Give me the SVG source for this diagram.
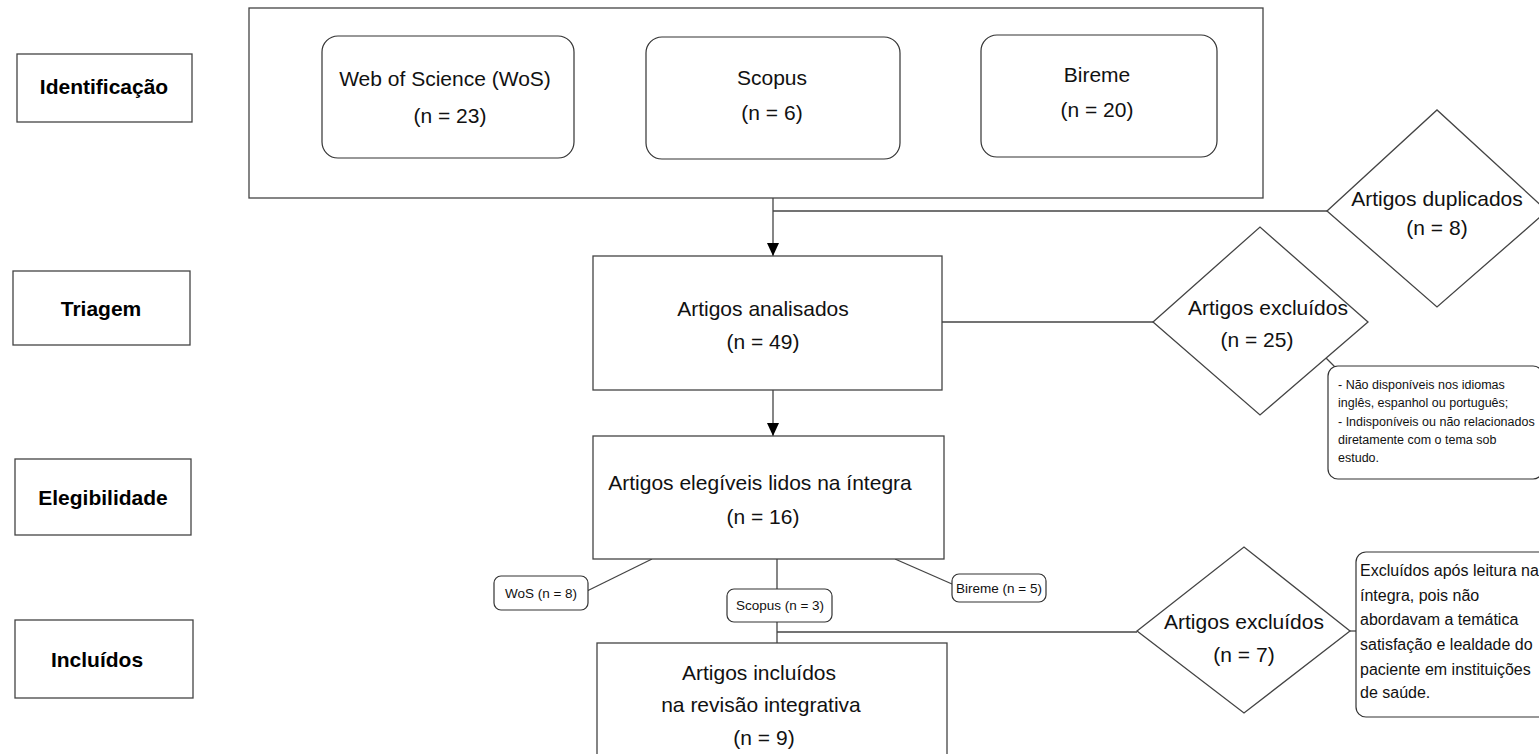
<svg xmlns="http://www.w3.org/2000/svg" width="1539" height="754" viewBox="0 0 1539 754">
<defs>
<style>
.box{fill:#fff;stroke:#444;stroke-width:1.3}
.rbox{fill:#fff;stroke:#333;stroke-width:1.2}
.ln{fill:none;stroke:#444;stroke-width:1.3}
.t{font-family:"Liberation Sans",Arial,sans-serif;font-size:21px;fill:#111;text-anchor:middle}
.lb{font-family:"Liberation Sans",Arial,sans-serif;font-size:21px;font-weight:bold;fill:#000;text-anchor:middle}
.s{font-family:"Liberation Sans",Arial,sans-serif;font-size:13.5px;fill:#111;text-anchor:middle}
.n1{font-family:"Liberation Sans",Arial,sans-serif;font-size:12.5px;fill:#111}
.n2{font-family:"Liberation Sans",Arial,sans-serif;font-size:16px;fill:#111}
</style>
<marker id="ah" viewBox="0 0 13 12" refX="13" refY="6" markerWidth="13" markerHeight="12" markerUnits="userSpaceOnUse" orient="auto">
<path d="M0,0 L13,6 L0,12 Z" fill="#000"/>
</marker>
</defs>
<rect width="1539" height="754" fill="#fff"/>

<g id="stage-identificacao"><rect class="box" x="17" y="54" width="175" height="68"/><text class="lb" x="104" y="94">Identificação</text></g>
<g id="stage-triagem"><rect class="box" x="13" y="271" width="177" height="74"/><text class="lb" x="101" y="316">Triagem</text></g>
<g id="stage-elegibilidade"><rect class="box" x="15" y="459" width="176" height="76"/><text class="lb" x="103" y="505">Elegibilidade</text></g>
<g id="stage-incluidos"><rect class="box" x="15" y="620" width="178" height="78"/><text class="lb" x="97" y="667">Incluídos</text></g>

<g id="connectors">
<line class="ln" x1="773" y1="198" x2="773" y2="256" marker-end="url(#ah)"/>
<line class="ln" x1="773" y1="211" x2="1327" y2="211"/>
<line class="ln" x1="942" y1="322" x2="1153" y2="322"/>
<line class="ln" x1="1326" y1="358" x2="1336" y2="368"/>
<line class="ln" x1="773" y1="390" x2="773" y2="436" marker-end="url(#ah)"/>
<line class="ln" x1="652" y1="559" x2="587" y2="591"/>
<line class="ln" x1="895" y1="559" x2="952" y2="584"/>
<line class="ln" x1="777" y1="559" x2="777" y2="589"/>
<line class="ln" x1="777" y1="622" x2="777" y2="643"/>
<line class="ln" x1="777" y1="632" x2="1137" y2="632"/>
<line class="ln" x1="1350" y1="631" x2="1356" y2="631"/>
</g>

<g id="identificacao-box"><rect class="box" x="249" y="8" width="1014" height="190"/></g>
<g id="wos"><rect class="rbox" x="322" y="36" width="252" height="122" rx="16"/><text class="t" x="445" y="86">Web of Science (WoS)</text><text class="t" x="450" y="123">(n = 23)</text></g>
<g id="scopus"><rect class="rbox" x="646" y="37" width="254" height="122" rx="16"/><text class="t" x="772" y="85">Scopus</text><text class="t" x="772" y="120">(n = 6)</text></g>
<g id="bireme"><rect class="rbox" x="981" y="35" width="236" height="122" rx="16"/><text class="t" x="1097" y="82">Bireme</text><text class="t" x="1097" y="117">(n = 20)</text></g>

<g id="duplicados"><polygon class="box" points="1327,211 1437,110 1547,211 1437,307"/><text class="t" x="1437" y="206">Artigos duplicados</text><text class="t" x="1437" y="235">(n = 8)</text></g>

<g id="analisados"><rect class="box" x="593" y="256" width="349" height="134"/><text class="t" x="763" y="316">Artigos analisados</text><text class="t" x="763" y="349">(n = 49)</text></g>

<g id="excluidos-25"><polygon class="box" points="1153,322 1260,227 1368,322 1260,415"/><text class="t" x="1268" y="315">Artigos excluídos</text><text class="t" x="1257" y="347">(n = 25)</text></g>

<g id="nota-25"><rect class="rbox" x="1328" y="366" width="215" height="113" rx="10"/>
<text class="n1" x="1338" y="389">- Não disponíveis nos idiomas</text>
<text class="n1" x="1338" y="407">inglês, espanhol ou português;</text>
<text class="n1" x="1338" y="426">- Indisponíveis ou não relacionados</text>
<text class="n1" x="1338" y="444">diretamente com o tema sob</text>
<text class="n1" x="1338" y="462">estudo.</text></g>

<g id="elegiveis"><rect class="box" x="593" y="436" width="351" height="123"/><text class="t" x="760" y="490">Artigos elegíveis lidos na íntegra</text><text class="t" x="763" y="524">(n = 16)</text></g>

<g id="wos-8"><rect class="rbox" x="494" y="576" width="94" height="34" rx="7"/><text class="s" x="541" y="598">WoS (n = 8)</text></g>
<g id="scopus-3"><rect class="rbox" x="727" y="589" width="105" height="33" rx="7"/><text class="s" x="780" y="610">Scopus (n = 3)</text></g>
<g id="bireme-5"><rect class="rbox" x="952" y="574" width="94" height="28" rx="7"/><text class="s" x="999" y="593">Bireme (n = 5)</text></g>

<g id="excluidos-7"><polygon class="box" points="1137,631 1244,547 1350,631 1244,713"/><text class="t" x="1244" y="629">Artigos excluídos</text><text class="t" x="1244" y="662">(n = 7)</text></g>

<g id="nota-7"><rect class="rbox" x="1356" y="552" width="200" height="165" rx="10"/>
<text class="n2" x="1360" y="576">Excluídos após leitura na</text>
<text class="n2" x="1360" y="601">íntegra, pois não</text>
<text class="n2" x="1360" y="625">abordavam a temática</text>
<text class="n2" x="1360" y="650">satisfação e lealdade do</text>
<text class="n2" x="1360" y="675">paciente em instituições</text>
<text class="n2" x="1360" y="698">de saúde.</text></g>

<g id="incluidos"><rect class="box" x="597" y="643" width="350" height="120"/><text class="t" x="759" y="680">Artigos incluídos</text><text class="t" x="761" y="712">na revisão integrativa</text><text class="t" x="764" y="745">(n = 9)</text></g>
</svg>
